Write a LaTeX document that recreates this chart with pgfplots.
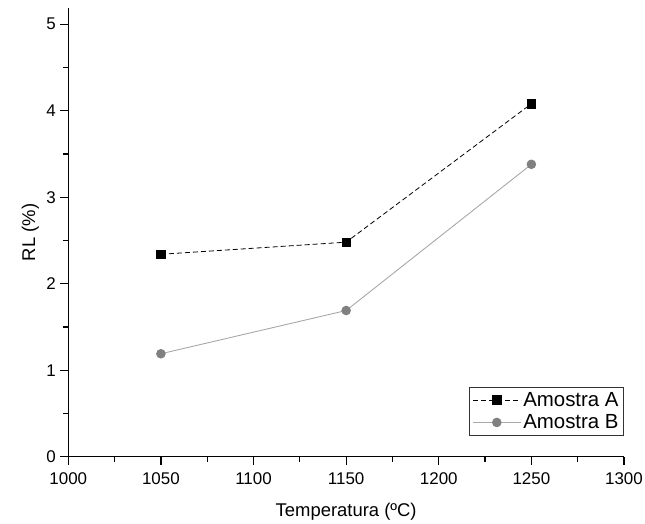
\documentclass[border=0pt]{standalone}
\usepackage{pgfplots}
\pgfplotsset{compat=1.18}
\usepackage{fontspec}
\setmainfont{Liberation Sans}
\definecolor{gB}{HTML}{808080}
\definecolor{gBl}{HTML}{A8A8A8}
\begin{document}
\begin{tikzpicture}
\begin{axis}[
  at={(0,0)}, anchor=south west,
  scale only axis, width=555.7bp, height=448.7bp,
  xmin=1000, xmax=1300, ymin=0, ymax=5.187,
  axis x line*=bottom, axis y line*=left,
  axis line style={-, line width=1.3bp, black},
  xtick={1000,1050,...,1300}, ytick={0,1,2,3,4,5},
  minor x tick num=1, minor y tick num=1,
  tick align=outside,
  major tick length=8bp, minor tick length=5bp,
  every tick/.style={black, line width=1.3bp},
  /pgf/number format/assume math mode=true,
  /pgf/number format/set thousands separator={},
  ticklabel style={font=\fontsize{17}{17}\selectfont},
  xticklabel style={yshift=-4bp},
  yticklabel style={xshift=-1bp},
  xlabel={Temperatura (ºC)}, ylabel={RL (\%)},
  label style={font=\fontsize{18.5}{18.5}\selectfont},
  xlabel style={at={(axis description cs:0.5,0)}, anchor=center, yshift=-55bp},
  ylabel style={at={(axis description cs:0,0.5)}, anchor=center, yshift=38bp},
  legend style={at={(1,0.047)}, anchor=south east, draw=black!80, line width=0.8bp,
    font=\fontsize{20.5}{22}\selectfont, inner xsep=3bp, inner ysep=3bp, row sep=3bp,
    cells={anchor=west}},
  legend image code/.code={\draw[mark repeat=2,mark phase=2] plot coordinates {(0bp,0bp) (24bp,0bp) (48bp,0bp)};},
  clip=false,
]
\addplot[black, line width=0.8bp, dash pattern=on 5bp off 3bp, mark=square*, mark size=4.2bp,
  mark options={solid, fill=black}]
  coordinates {(1050,2.34) (1150,2.48) (1250,4.08)};
\addlegendentry{Amostra A}
\addplot[gBl, line width=0.9bp, mark=*, mark size=4.3bp, mark options={solid, fill=gB, draw=gB}]
  coordinates {(1050,1.19) (1150,1.69) (1250,3.38)};
\addlegendentry{Amostra B}
\end{axis}
\pgfresetboundingbox
\path (-68.3bp,-67.3bp) rectangle (576.7bp,456.7bp);
\end{tikzpicture}
\end{document}
